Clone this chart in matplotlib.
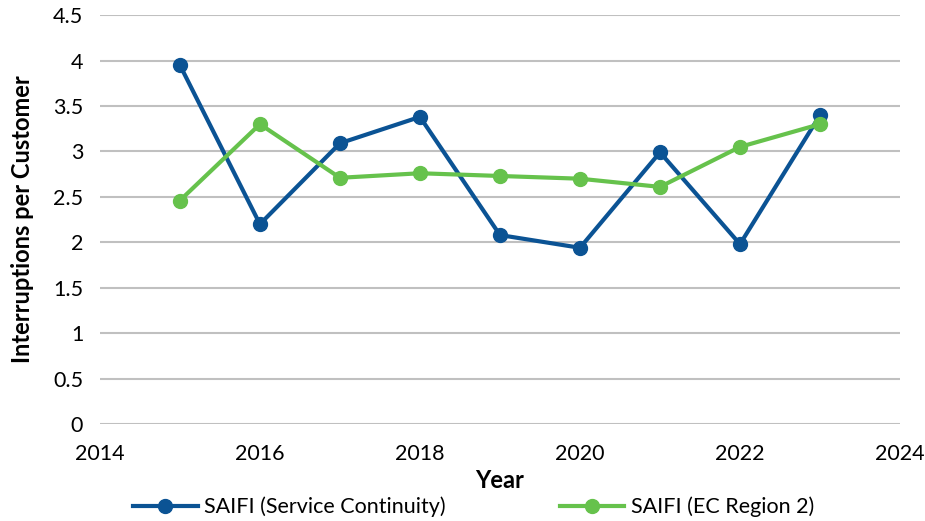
import matplotlib
matplotlib.use("Agg")
import matplotlib.pyplot as plt

# dati
years = [2015, 2016, 2017, 2018, 2019, 2020, 2021, 2022, 2023]
saifi_sc = [3.95, 2.20, 3.09, 3.38, 2.08, 1.94, 2.99, 1.98, 3.40]
saifi_ec = [2.46, 3.30, 2.71, 2.76, 2.73, 2.70, 2.61, 3.05, 3.30]
x_ticks = [2014, 2016, 2018, 2020, 2022, 2024]
y_ticks = [0, 0.5, 1, 1.5, 2, 2.5, 3, 3.5, 4, 4.5]

plt.rcParams['font.family'] = ['Lato', 'DejaVu Sans']

blue = '#0b5394'
green = '#66c24c'

fig = plt.figure(figsize=(9.25, 5.21), dpi=100)
ax = fig.add_axes([0.108, 0.186, 0.865, 0.785])

ax.plot(years, saifi_sc, color=blue, lw=3, marker='o', ms=10,
        label='SAIFI (Service Continuity)', zorder=3)
ax.plot(years, saifi_ec, color=green, lw=3, marker='o', ms=10,
        label='SAIFI (EC Region 2)', zorder=4)

ax.set_xlim(2014, 2024)
ax.set_ylim(0, 4.5)
ax.set_xticks(x_ticks)
ax.set_yticks(y_ticks)
ax.set_yticklabels([f"{v:g}" for v in y_ticks])
ax.tick_params(length=0, labelsize=15.5)
ax.tick_params(axis='x', pad=14)
ax.tick_params(axis='y', pad=12)
ax.grid(axis='y', color='#c0c0c0', lw=1.5, zorder=0)
# piccole interruzioni bianche sulle griglie (come in Excel)
for xv in x_ticks[1:-1]:
    ax.axvline(xv, color='white', lw=1.2, zorder=1)
for s in ax.spines.values():
    s.set_visible(False)

ax.set_xlabel('Year', fontsize=17, fontweight='bold', labelpad=4)
ax.set_ylabel('Interruptions per Customer', fontsize=17, fontweight='bold', labelpad=14)

fig.legend(loc='lower center', bbox_to_anchor=(0.512, -0.03), ncol=2, frameon=False,
           fontsize=15.5, columnspacing=5.3, handlelength=3, handletextpad=0.3)

fig.savefig('out.png', dpi=100)
